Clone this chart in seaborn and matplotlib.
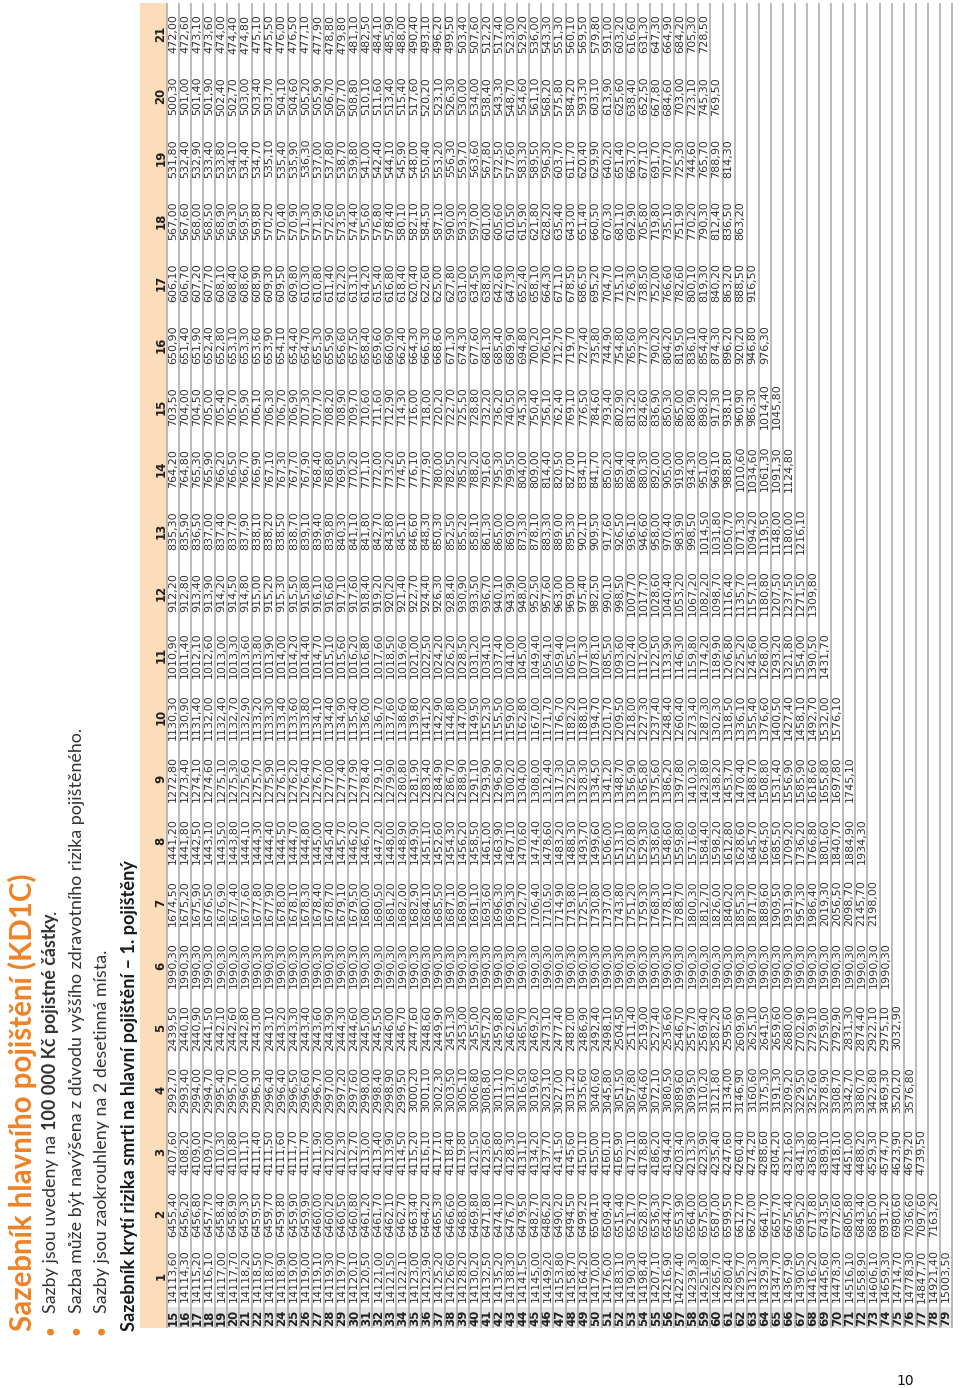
import numpy as np
import pandas as pd
import matplotlib
matplotlib.use("Agg")
import matplotlib.pyplot as plt
import matplotlib.transforms as mtransforms
from matplotlib.colors import ListedColormap
from matplotlib.patches import Rectangle
import seaborn as sns

# --- data: rates per 100 000 Kc, one list per term (years), starting at age 15 ---
ages = [15, 16, 17, 18, 19, 20, 21, 22, 23, 24, 25, 26, 27, 28, 29, 30, 31, 32, 33, 34,
        35, 36, 37, 38, 39, 40, 41, 42, 43, 44, 45, 46, 47, 48, 49, 50, 51, 52, 53, 54,
        55, 56, 57, 58, 59, 60, 61, 62, 63, 64, 65, 66, 67, 68, 69, 70, 71, 72, 73, 74,
        75, 76, 77, 78, 79]
terms = [1, 2, 3, 4, 5, 6, 7, 8, 9, 10, 11, 12, 13, 14, 15, 16, 17, 18, 19, 20, 21]

rate_t1 = [14113.60, 14114.30, 14115.20, 14116.10, 14117.00, 14117.70, 14118.20, 14118.50, 14118.70, 14118.90,
           14119.00, 14119.00, 14119.10, 14119.30, 14119.70, 14120.10, 14120.50, 14121.00, 14121.50, 14122.10,
           14123.00, 14123.90, 14125.20, 14126.60, 14128.20, 14130.20, 14132.50, 14135.20, 14138.30, 14141.50,
           14145.00, 14149.20, 14153.80, 14158.70, 14164.20, 14170.00, 14176.00, 14183.10, 14190.30, 14198.40,
           14207.10, 14216.90, 14227.40, 14239.30, 14251.80, 14265.70, 14280.40, 14295.70, 14312.30, 14329.30,
           14347.70, 14367.90, 14390.50, 14416.20, 14445.60, 14478.30, 14516.10, 14558.90, 14606.10, 14659.30,
           14714.70, 14778.30, 14847.70, 14921.40, 15003.50]
rate_t2 = [6455.40, 6456.20, 6456.80, 6457.70, 6458.40, 6458.90, 6459.30, 6459.50, 6459.70, 6459.80,
           6459.90, 6459.90, 6460.00, 6460.20, 6460.50, 6460.80, 6461.20, 6461.70, 6462.10, 6462.70,
           6463.40, 6464.20, 6465.30, 6466.60, 6468.00, 6469.80, 6471.80, 6474.10, 6476.70, 6479.50,
           6482.70, 6486.20, 6490.20, 6494.50, 6499.20, 6504.10, 6509.40, 6515.40, 6521.70, 6528.70,
           6536.30, 6544.70, 6553.90, 6564.00, 6575.00, 6587.00, 6599.50, 6612.70, 6627.00, 6641.70,
           6657.70, 6675.40, 6695.20, 6717.80, 6743.50, 6772.60, 6805.80, 6843.40, 6885.00, 6931.20,
           6980.60, 7036.60, 7097.60, 7163.20]
rate_t3 = [4107.60, 4108.20, 4109.00, 4109.70, 4110.30, 4110.80, 4111.10, 4111.40, 4111.50, 4111.60,
           4111.70, 4111.70, 4111.90, 4112.00, 4112.30, 4112.70, 4113.00, 4113.40, 4113.90, 4114.50,
           4115.20, 4116.10, 4117.10, 4118.40, 4119.80, 4121.50, 4123.60, 4125.80, 4128.30, 4131.10,
           4134.20, 4137.70, 4141.50, 4145.60, 4150.10, 4155.00, 4160.10, 4165.90, 4172.10, 4178.80,
           4186.20, 4194.40, 4203.40, 4213.30, 4223.90, 4235.40, 4247.60, 4260.40, 4274.20, 4288.60,
           4304.20, 4321.60, 4341.30, 4363.80, 4389.10, 4418.10, 4451.00, 4488.20, 4529.30, 4574.70,
           4623.90, 4679.20, 4739.50]
rate_t4 = [2992.70, 2993.40, 2994.00, 2994.70, 2995.40, 2995.70, 2996.00, 2996.30, 2996.40, 2996.40,
           2996.50, 2996.60, 2996.70, 2997.00, 2997.20, 2997.60, 2998.00, 2998.40, 2998.90, 2999.50,
           3000.20, 3001.10, 3002.30, 3003.50, 3005.10, 3006.80, 3008.80, 3011.10, 3013.70, 3016.50,
           3019.60, 3023.10, 3027.00, 3031.20, 3035.60, 3040.60, 3045.80, 3051.50, 3057.80, 3064.60,
           3072.10, 3080.50, 3089.60, 3099.50, 3110.20, 3121.80, 3134.00, 3146.90, 3160.60, 3175.30,
           3191.30, 3209.20, 3229.50, 3252.60, 3278.90, 3308.70, 3342.70, 3380.70, 3422.80, 3469.30,
           3520.20, 3576.80]
rate_t5 = [2439.50, 2440.10, 2440.90, 2441.50, 2442.10, 2442.60, 2442.80, 2443.00, 2443.10, 2443.20,
           2443.30, 2443.40, 2443.60, 2443.90, 2444.30, 2444.60, 2445.00, 2445.50, 2446.00, 2446.70,
           2447.60, 2448.60, 2449.90, 2451.30, 2453.00, 2455.00, 2457.20, 2459.80, 2462.60, 2465.70,
           2469.20, 2473.10, 2477.40, 2482.00, 2486.90, 2492.40, 2498.10, 2504.50, 2511.40, 2519.00,
           2527.40, 2536.60, 2546.70, 2557.70, 2569.40, 2582.20, 2595.60, 2609.90, 2625.10, 2641.50,
           2659.60, 2680.00, 2702.90, 2729.10, 2759.00, 2792.90, 2831.30, 2874.40, 2922.10, 2975.10,
           3032.90]
rate_t6 = [1990.30, 1990.30, 1990.30, 1990.30, 1990.30, 1990.30, 1990.30, 1990.30, 1990.30, 1990.30,
           1990.30, 1990.30, 1990.30, 1990.30, 1990.30, 1990.30, 1990.30, 1990.30, 1990.30, 1990.30,
           1990.30, 1990.30, 1990.30, 1990.30, 1990.30, 1990.30, 1990.30, 1990.30, 1990.30, 1990.30,
           1990.30, 1990.30, 1990.30, 1990.30, 1990.30, 1990.30, 1990.30, 1990.30, 1990.30, 1990.30,
           1990.30, 1990.30, 1990.30, 1990.30, 1990.30, 1990.30, 1990.30, 1990.30, 1990.30, 1990.30,
           1990.30, 1990.30, 1990.30, 1990.30, 1990.30, 1990.30, 1990.30, 1990.30, 1990.30, 1990.30]
rate_t7 = [1674.50, 1675.20, 1675.90, 1676.50, 1676.90, 1677.40, 1677.60, 1677.80, 1677.90, 1678.00,
           1678.10, 1678.30, 1678.40, 1678.70, 1679.10, 1679.50, 1680.00, 1680.50, 1681.20, 1682.00,
           1682.90, 1684.10, 1685.50, 1687.10, 1689.00, 1691.10, 1693.60, 1696.30, 1699.30, 1702.70,
           1706.40, 1710.50, 1714.90, 1719.80, 1725.10, 1730.80, 1737.00, 1743.80, 1751.20, 1759.30,
           1768.30, 1778.10, 1788.70, 1800.30, 1812.70, 1826.00, 1840.20, 1855.30, 1871.70, 1889.60,
           1909.50, 1931.90, 1957.30, 1986.40, 2019.30, 2056.50, 2098.70, 2145.70, 2198.00]
rate_t8 = [1441.20, 1441.80, 1442.50, 1443.10, 1443.50, 1443.80, 1444.10, 1444.30, 1444.40, 1444.50,
           1444.70, 1444.80, 1445.00, 1445.40, 1445.70, 1446.20, 1446.70, 1447.20, 1448.00, 1448.90,
           1449.90, 1451.10, 1452.60, 1454.30, 1456.20, 1458.50, 1461.00, 1463.90, 1467.10, 1470.60,
           1474.40, 1478.60, 1483.20, 1488.30, 1493.70, 1499.60, 1506.00, 1513.10, 1520.80, 1529.30,
           1538.60, 1548.60, 1559.80, 1571.60, 1584.40, 1598.20, 1612.80, 1628.60, 1645.70, 1664.50,
           1685.50, 1709.20, 1736.20, 1766.80, 1801.60, 1840.70, 1884.90, 1934.30]
rate_t9 = [1272.80, 1273.40, 1274.10, 1274.60, 1275.10, 1275.30, 1275.60, 1275.70, 1275.90, 1276.10,
           1276.20, 1276.40, 1276.70, 1277.00, 1277.40, 1277.90, 1278.40, 1279.10, 1279.90, 1280.80,
           1281.90, 1283.40, 1284.90, 1286.70, 1288.90, 1291.10, 1293.90, 1296.90, 1300.20, 1304.00,
           1308.00, 1312.40, 1317.30, 1322.50, 1328.30, 1334.50, 1341.20, 1348.70, 1356.90, 1365.80,
           1375.60, 1386.20, 1397.80, 1410.30, 1423.80, 1438.20, 1453.70, 1470.40, 1488.70, 1508.80,
           1531.40, 1556.90, 1585.90, 1618.60, 1655.80, 1697.80, 1745.10]
rate_t10 = [1130.30, 1130.90, 1131.40, 1132.00, 1132.40, 1132.70, 1132.90, 1133.20, 1133.30, 1133.40,
            1133.60, 1133.80, 1134.10, 1134.40, 1134.90, 1135.40, 1136.00, 1136.70, 1137.60, 1138.60,
            1139.80, 1141.20, 1142.90, 1144.80, 1147.00, 1149.50, 1152.30, 1155.50, 1159.00, 1162.80,
            1167.00, 1171.70, 1176.70, 1182.20, 1188.10, 1194.70, 1201.70, 1209.50, 1218.00, 1227.30,
            1237.40, 1248.40, 1260.40, 1273.40, 1287.30, 1302.30, 1318.50, 1336.10, 1355.40, 1376.60,
            1400.50, 1427.40, 1458.10, 1492.70, 1532.00, 1576.10]
rate_t11 = [1010.90, 1011.40, 1012.10, 1012.60, 1013.00, 1013.30, 1013.60, 1013.80, 1013.90, 1014.00,
            1014.20, 1014.40, 1014.70, 1015.10, 1015.60, 1016.20, 1016.80, 1017.60, 1018.50, 1019.60,
            1021.00, 1022.50, 1024.20, 1026.20, 1028.50, 1031.20, 1034.10, 1037.40, 1041.00, 1045.00,
            1049.40, 1054.10, 1059.40, 1065.10, 1071.30, 1078.10, 1085.50, 1093.60, 1102.40, 1112.00,
            1122.50, 1133.90, 1146.30, 1159.80, 1174.20, 1189.90, 1206.80, 1225.20, 1245.60, 1268.00,
            1293.20, 1321.80, 1354.00, 1390.50, 1431.70]
rate_t12 = [912.20, 912.80, 913.40, 913.90, 914.20, 914.50, 914.80, 915.00, 915.20, 915.30,
            915.50, 915.80, 916.10, 916.60, 917.10, 917.60, 918.40, 919.20, 920.20, 921.40,
            922.70, 924.40, 926.30, 928.40, 930.90, 933.50, 936.70, 940.10, 943.90, 948.00,
            952.50, 957.60, 963.00, 969.00, 975.40, 982.50, 990.10, 998.50, 1007.70, 1017.70,
            1028.60, 1040.40, 1053.20, 1067.20, 1082.20, 1098.70, 1116.40, 1135.70, 1157.10, 1180.80,
            1207.50, 1237.50, 1271.50, 1309.80]
rate_t13 = [835.30, 835.90, 836.50, 837.00, 837.40, 837.70, 837.90, 838.10, 838.20, 838.50,
            838.70, 839.10, 839.40, 839.80, 840.30, 841.10, 841.80, 842.70, 843.80, 845.10,
            846.60, 848.30, 850.30, 852.50, 855.20, 858.10, 861.30, 865.00, 869.00, 873.30,
            878.10, 883.30, 889.00, 895.30, 902.10, 909.50, 917.60, 926.50, 936.10, 946.60,
            958.00, 970.40, 983.90, 998.50, 1014.50, 1031.80, 1050.70, 1071.30, 1094.20, 1119.50,
            1148.00, 1180.00, 1216.10]
rate_t14 = [764.20, 764.80, 765.30, 765.90, 766.20, 766.50, 766.70, 766.90, 767.10, 767.30,
            767.70, 767.90, 768.40, 768.80, 769.50, 770.20, 771.10, 772.00, 773.20, 774.50,
            776.10, 777.90, 780.00, 782.50, 785.20, 788.20, 791.60, 795.30, 799.50, 804.00,
            809.00, 814.40, 820.50, 827.00, 834.10, 841.70, 850.20, 859.40, 869.40, 880.30,
            892.00, 905.00, 919.00, 934.30, 951.00, 969.10, 988.80, 1010.60, 1034.60, 1061.30,
            1091.30, 1124.80]
rate_t15 = [703.50, 704.00, 704.50, 705.00, 705.40, 705.70, 705.90, 706.10, 706.30, 706.70,
            706.90, 707.30, 707.70, 708.20, 708.90, 709.70, 710.60, 711.60, 712.90, 714.30,
            716.00, 718.00, 720.20, 722.70, 725.50, 728.80, 732.20, 736.20, 740.50, 745.30,
            750.40, 756.10, 762.40, 769.10, 776.50, 784.60, 793.40, 802.90, 813.20, 824.60,
            836.90, 850.30, 865.00, 880.90, 898.20, 917.30, 938.10, 960.90, 986.30, 1014.40,
            1045.80]
rate_t16 = [650.90, 651.40, 651.90, 652.40, 652.80, 653.10, 653.30, 653.60, 653.90, 654.10,
            654.40, 654.70, 655.30, 655.90, 656.60, 657.50, 658.40, 659.60, 660.90, 662.40,
            664.30, 666.30, 668.60, 671.30, 674.30, 677.60, 681.30, 685.40, 689.90, 694.80,
            700.20, 706.10, 712.70, 719.70, 727.40, 735.80, 744.90, 754.80, 765.60, 777.30,
            790.20, 804.20, 819.50, 836.10, 854.40, 874.30, 896.20, 920.20, 946.80, 976.30]
rate_t17 = [606.10, 606.70, 607.20, 607.70, 608.10, 608.40, 608.60, 608.90, 609.30, 609.50,
            609.80, 610.30, 610.80, 611.40, 612.20, 613.10, 614.20, 615.40, 616.80, 618.40,
            620.40, 622.60, 625.00, 627.80, 631.00, 634.50, 638.30, 642.60, 647.30, 652.40,
            658.10, 664.30, 671.10, 678.50, 686.50, 695.20, 704.70, 715.10, 726.30, 738.50,
            752.00, 766.60, 782.60, 800.10, 819.30, 840.20, 863.20, 888.50, 916.50]
rate_t18 = [567.00, 567.60, 568.00, 568.50, 568.90, 569.30, 569.50, 569.80, 570.20, 570.40,
            570.90, 571.30, 571.90, 572.60, 573.50, 574.40, 575.60, 576.80, 578.40, 580.10,
            582.10, 584.50, 587.10, 590.00, 593.30, 597.00, 601.00, 605.60, 610.50, 615.90,
            621.80, 628.20, 635.40, 643.00, 651.40, 660.50, 670.30, 681.10, 692.90, 705.80,
            719.80, 735.10, 751.90, 770.20, 790.30, 812.40, 836.50, 863.20]
rate_t19 = [531.80, 532.40, 532.90, 533.40, 533.80, 534.10, 534.40, 534.70, 535.10, 535.40,
            535.90, 536.30, 537.00, 537.80, 538.70, 539.80, 541.00, 542.40, 544.10, 545.90,
            548.00, 550.40, 553.20, 556.30, 559.70, 563.60, 567.80, 572.50, 577.60, 583.30,
            589.50, 596.30, 603.70, 611.70, 620.40, 629.90, 640.20, 651.40, 663.70, 677.10,
            691.70, 707.70, 725.30, 744.60, 765.70, 788.90, 814.30]
rate_t20 = [500.30, 501.00, 501.40, 501.90, 502.40, 502.70, 503.00, 503.40, 503.70, 504.10,
            504.60, 505.20, 505.90, 506.70, 507.70, 508.80, 510.10, 511.60, 513.40, 515.40,
            517.60, 520.20, 523.10, 526.30, 530.00, 534.00, 538.40, 543.30, 548.70, 554.60,
            561.10, 568.20, 575.80, 584.20, 593.30, 603.10, 613.90, 625.60, 638.40, 652.50,
            667.80, 684.60, 703.00, 723.10, 745.30, 769.50]
rate_t21 = [472.00, 472.60, 473.10, 473.60, 474.00, 474.40, 474.80, 475.10, 475.50, 476.00,
            476.50, 477.10, 477.90, 478.80, 479.80, 481.10, 482.50, 484.10, 485.90, 488.00,
            490.40, 493.10, 496.20, 499.50, 503.40, 507.60, 512.20, 517.40, 523.00, 529.20,
            536.00, 543.30, 551.30, 560.10, 569.50, 579.80, 591.00, 603.20, 616.60, 631.30,
            647.30, 664.90, 684.20, 705.30, 728.50]

rates = [rate_t1, rate_t2, rate_t3, rate_t4, rate_t5, rate_t6, rate_t7, rate_t8, rate_t9, rate_t10,
         rate_t11, rate_t12, rate_t13, rate_t14, rate_t15, rate_t16, rate_t17, rate_t18, rate_t19,
         rate_t20, rate_t21]

title = "Sazebník hlavního pojištění (KD1C)"
bullet_1 = ["Sazby jsou uvedeny na ", "100 000 Kč pojistné částky", "."]
bullet_2 = "Sazba může být navýšena z důvodu vyššího zdravotního rizika pojištěného."
bullet_3 = "Sazby jsou zaokrouhleny na 2 desetinná místa."
subtitle = "Sazebník krytí rizika smrti na hlavní pojištění – 1. pojištěný"
page_no = "10"

ORANGE = "#ef8225"
PEACH = "#fbdcbb"
GREY_BAND = "#e6e6e6"
LINE = "#a8a8a8"
TXT = "#333333"

W, H = 960, 1388


def fx(px):
    return px / W


def fy(py):
    return 1 - py / H


sns.set_theme(style="white")
plt.rcParams['font.family'] = ['DejaVu Sans']

fig = plt.figure(figsize=(W / 100, H / 100), dpi=100)
renderer = fig.canvas.get_renderer()

# table geometry (pixels, page is rotated by 90 degrees)
x_head, x_data, x_end = 140, 167, 952
y_top, y_data, y_bot = 3, 1307, 1328

ax = fig.add_axes([fx(x_data), fy(y_data), fx(x_end) - fx(x_data), (y_data - y_top) / H])

table = pd.DataFrame(np.nan, index=terms[::-1], columns=ages)
for t, col in zip(terms, rates):
    table.loc[t, ages[:len(col)]] = col
labels = table.map(lambda v: "" if pd.isna(v) else f"{v:.2f}".replace(".", ","))

sns.heatmap(table, ax=ax, cmap=ListedColormap(["white"]), cbar=False,
            annot=labels, fmt="", xticklabels=ages, yticklabels=terms[::-1],
            annot_kws=dict(rotation=90, fontsize=8.0, color=TXT))

ax.tick_params(axis="x", length=0, pad=(y_bot - y_data) / 2 * 0.72)
ax.tick_params(axis="y", length=0, pad=6 * 0.72)
for lab in ax.get_xticklabels():
    lab.set(rotation=90, va="center", ha="center", fontweight="bold", fontsize=8.5, color="#222222")
for lab in ax.get_yticklabels():
    lab.set(rotation=90, va="center", ha="center", fontweight="bold", fontsize=8.5, color="#222222")
ax.set_xlabel("")
ax.set_ylabel("")

# row separators run through the age band as well
trans = mtransforms.blended_transform_factory(ax.transData, ax.transAxes)
ext = (y_bot - y_data) / (y_data - y_top)
ax.vlines(np.arange(len(ages) + 1), -ext, 1, transform=trans, colors=LINE, lw=1.1, clip_on=False)

fig.add_artist(Rectangle((fx(x_head), fy(y_bot)), fx(x_data) - fx(x_head), (y_bot - y_top) / H,
                         transform=fig.transFigure, facecolor=PEACH, edgecolor="none", zorder=-2))
fig.add_artist(Rectangle((fx(x_data), fy(y_bot)), fx(x_end) - fx(x_data), (y_bot - y_data) / H,
                         transform=fig.transFigure, facecolor=GREY_BAND, edgecolor="none", zorder=-2))


def fit_text(x, y, s, length, **kw):
    t = fig.text(fx(x), fy(y), s, rotation=90, ha="center", va="bottom", **kw)
    bb = t.get_window_extent(renderer)
    t.set_fontsize(t.get_fontsize() * length / bb.height)
    return t


fit_text(22, 1331, title, 458, color=ORANGE, fontweight="bold", family="Lato")
fit_text(130, 1331, subtitle, 468, color="#1a1a1a", fontweight="bold", family="Lato")
b2 = fit_text(77, 1313, bullet_2, 582, color=TXT, family="Lato")
fs = b2.get_fontsize()
fig.text(fx(102), fy(1313), bullet_3, rotation=90, ha="center", va="bottom",
         color=TXT, family="Lato", fontsize=fs)

# first bullet has a bold part in the middle
y_cur = 1313
for part, weight in zip(bullet_1, ["normal", "bold", "normal"]):
    t = fig.text(fx(51), fy(y_cur), part, rotation=90, ha="center", va="bottom",
                 color=TXT, family="Lato", fontsize=fs, fontweight=weight)
    y_cur -= t.get_window_extent(renderer).height

for bx in [50, 76, 101]:
    fig.text(fx(bx), fy(1328), "\u2022", rotation=90, ha="center", va="center",
             color=ORANGE, fontsize=fs * 1.3)

fig.text(fx(905), fy(1381), page_no, ha="center", va="center", fontsize=10, color="#111111")

fig.savefig("out.png", dpi=100)
